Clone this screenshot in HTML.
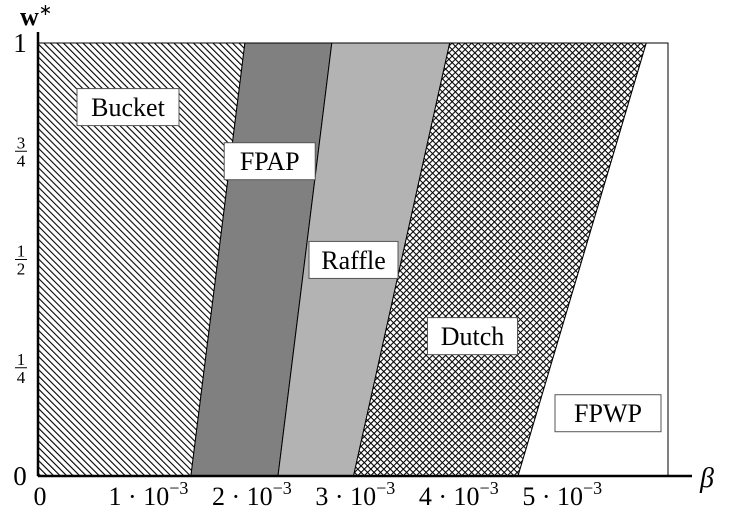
<!DOCTYPE html>
<html><head><meta charset="utf-8"><style>
body{margin:0;background:#fff;width:734px;height:523px;overflow:hidden}
svg text{font-family:"Liberation Serif",serif;fill:#000}
</style></head><body>
<svg width="734" height="523">
<defs>
<pattern id="hatch" width="4.6" height="4.6" patternUnits="userSpaceOnUse" patternTransform="rotate(-45)">
<rect width="4.6" height="4.6" fill="#fff"/><line x1="0.5" y1="0" x2="0.5" y2="4.6" stroke="#000" stroke-width="1.2"/></pattern>
<pattern id="cross" width="4.6" height="4.6" patternUnits="userSpaceOnUse" patternTransform="rotate(45)">
<rect width="4.6" height="4.6" fill="#fff"/><line x1="0.5" y1="0" x2="0.5" y2="4.6" stroke="#000" stroke-width="1.1"/><line x1="0" y1="0.5" x2="4.6" y2="0.5" stroke="#000" stroke-width="1.1"/></pattern>
</defs>
<g id="regions"></g>
<g id="labels"></g>
<g id="axes"></g>
</svg>
<script>
const regionNames = ["Bucket","FPAP","Raffle","Dutch","FPWP"];
const boundaryBottom = [1.478e-3, 2.32e-3, 3.05e-3, 4.64e-3];
const boundaryTop = [2.00e-3, 2.84e-3, 3.98e-3, 5.88e-3];
const xMax = 6.09e-3;
const xTicks = [0,1e-3,2e-3,3e-3,4e-3,5e-3];
const xTickLabels = ["0","1","2","3","4","5"];
const yTicks = [0,0.25,0.5,0.75,1];
const yTickLabels = ["0","1/4","1/2","3/4","1"];
const labelX = [0.87e-3,2.24e-3,3.05e-3,4.20e-3,5.51e-3];
const labelY = [0.852,0.727,0.499,0.323,0.145];
const labelW = [102,91,89,90,106];
const X0=38,X1=668,Y0=476,Y1=43;
const sx=v=>X0+v/xMax*(X1-X0);
const sy=v=>Y0-v*(Y0-Y1);
const NS="http://www.w3.org/2000/svg";
function mk(tag,attrs,parent){const e=document.createElementNS(NS,tag);for(const k in attrs)e.setAttribute(k,attrs[k]);parent.appendChild(e);return e;}
const fills=["url(#hatch)","#808080","#b3b3b3","url(#cross)","#fff"];
const reg=document.getElementById('regions');
const bl=[0,...boundaryBottom,xMax], tl=[0,...boundaryTop,xMax];
for(let i=0;i<5;i++){
 const p=mk('polygon',{points:`${sx(bl[i])},${sy(0)} ${sx(tl[i])},${sy(1)} ${sx(tl[i+1])},${sy(1)} ${sx(bl[i+1])},${sy(0)}`,fill:fills[i],stroke:"#000","stroke-width":"1"},reg);
 
 
}
mk('rect',{x:X0,y:Y1,width:X1-X0,height:Y0-Y1,fill:"none",stroke:"#000","stroke-width":"1"},reg);
const lab=document.getElementById('labels');
for(let i=0;i<5;i++){
 const g=mk('g',{},lab);
 
 
 const cx=sx(labelX[i]),cy=sy(labelY[i]);
 const w=labelW[i];
 mk('rect',{x:cx-w/2,y:cy-18.5,width:w,height:37,fill:"#fff",stroke:"#555","stroke-width":"1"},g);
 const t=mk('text',{x:cx,y:cy+9,"text-anchor":"middle","font-size":"26"},g);
 t.textContent=regionNames[i];
}
const ax=document.getElementById('axes');
mk('line',{x1:X0,y1:Y0,x2:692,y2:Y0,stroke:"#000","stroke-width":"2.5"},ax);
mk('line',{x1:X0,y1:Y0,x2:X0,y2:32,stroke:"#000","stroke-width":"2.5"},ax);
xTicks.forEach((v,i)=>{
 const t=mk('text',{x:sx(v)+(i?7:2),y:505,"text-anchor":"middle","font-size":"26"},ax);
 
 
 if(i===0){t.textContent="0";}
 else{t.innerHTML=xTickLabels[i]+' · 10<tspan font-size="18" dy="-11">−3</tspan>';}
});
yTicks.forEach((v,i)=>{
 const y=sy(v);
 let t;
 if(i===0||i===4){t=mk('text',{x:20,y:y+9,"text-anchor":"middle","font-size":"27"},ax);t.textContent=yTickLabels[i];}
 else{t=mk('g',{},ax);const [n,d]=yTickLabels[i].split('/');
  const a=mk('text',{x:21,y:y-3,"text-anchor":"middle","font-size":"17"},t);a.textContent=n;
  mk('line',{x1:15,y1:y,x2:27,y2:y,stroke:"#000","stroke-width":"1"},t);
  const b=mk('text',{x:21,y:y+15,"text-anchor":"middle","font-size":"17"},t);b.textContent=d;}
 
 
});
const yt=mk('text',{x:20,y:25,"font-size":"26","font-weight":"bold"},ax);
yt.innerHTML='w<tspan font-size="16" dy="-10" font-weight="normal">∗</tspan>';


const xt=mk('text',{x:700,y:487,"font-size":"28","font-style":"italic"},ax);
xt.textContent='β';


</script>
</body></html>
